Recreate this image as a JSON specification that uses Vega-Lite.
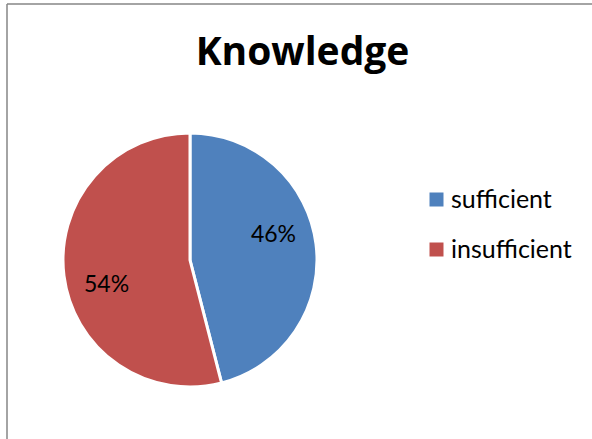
{
  "$schema": "https://vega.github.io/schema/vega-lite/v6.json",
  "width": 585,
  "height": 435,
  "autosize": {"type": "none"},
  "padding": {"left": 7, "top": 4, "right": 0, "bottom": 0},
  "background": "white",
  "view": {"stroke": "#878787", "strokeWidth": 1.5, "fill": "white", "strokeDash": [585, 1020, 435, 0]},
  "title": {
    "text": "Knowledge",
    "font": "Open Sans",
    "fontSize": 39,
    "fontWeight": "bold",
    "color": "#000000",
    "anchor": "middle",
    "frame": "group",
    "baseline": "alphabetic",
    "offset": -100,
    "dx": 3
  },
  "data": {
    "values": [
      {"category": "sufficient", "value": 46, "label": "46%"},
      {"category": "insufficient", "value": 54, "label": "54%"}
    ]
  },
  "encoding": {
    "theta": {"field": "value", "type": "quantitative", "stack": true},
    "order": {"field": "category", "sort": "descending"},
    "color": {
      "field": "category",
      "type": "nominal",
      "sort": ["sufficient", "insufficient"],
      "scale": {"domain": ["sufficient", "insufficient"], "range": ["#4F81BD", "#C0504D"]},
      "legend": {
        "orient": "none",
        "legendX": 417,
        "legendY": 183,
        "title": null,
        "symbolType": "square",
        "symbolSize": 196,
        "symbolStrokeWidth": 0,
        "labelFont": "Lato",
        "labelFontSize": 25,
        "labelColor": "#000000",
        "labelOffset": 2,
        "rowPadding": 24
      }
    }
  },
  "layer": [
    {
      "mark": {"type": "arc", "x": 183, "y": 256, "outerRadius": 127, "stroke": "white", "strokeWidth": 3}
    },
    {
      "mark": {"type": "text", "x": 183, "y": 256, "radius": 87, "thetaOffset": -0.16, "font": "Lato", "fontSize": 23, "color": "#000000", "baseline": "middle", "align": "center"},
      "encoding": {
        "text": {"field": "label"},
        "color": {"value": "#000000"}
      }
    }
  ],
  "config": {
    "view": {"stroke": "#878787", "strokeWidth": 1.5}
  }
}
